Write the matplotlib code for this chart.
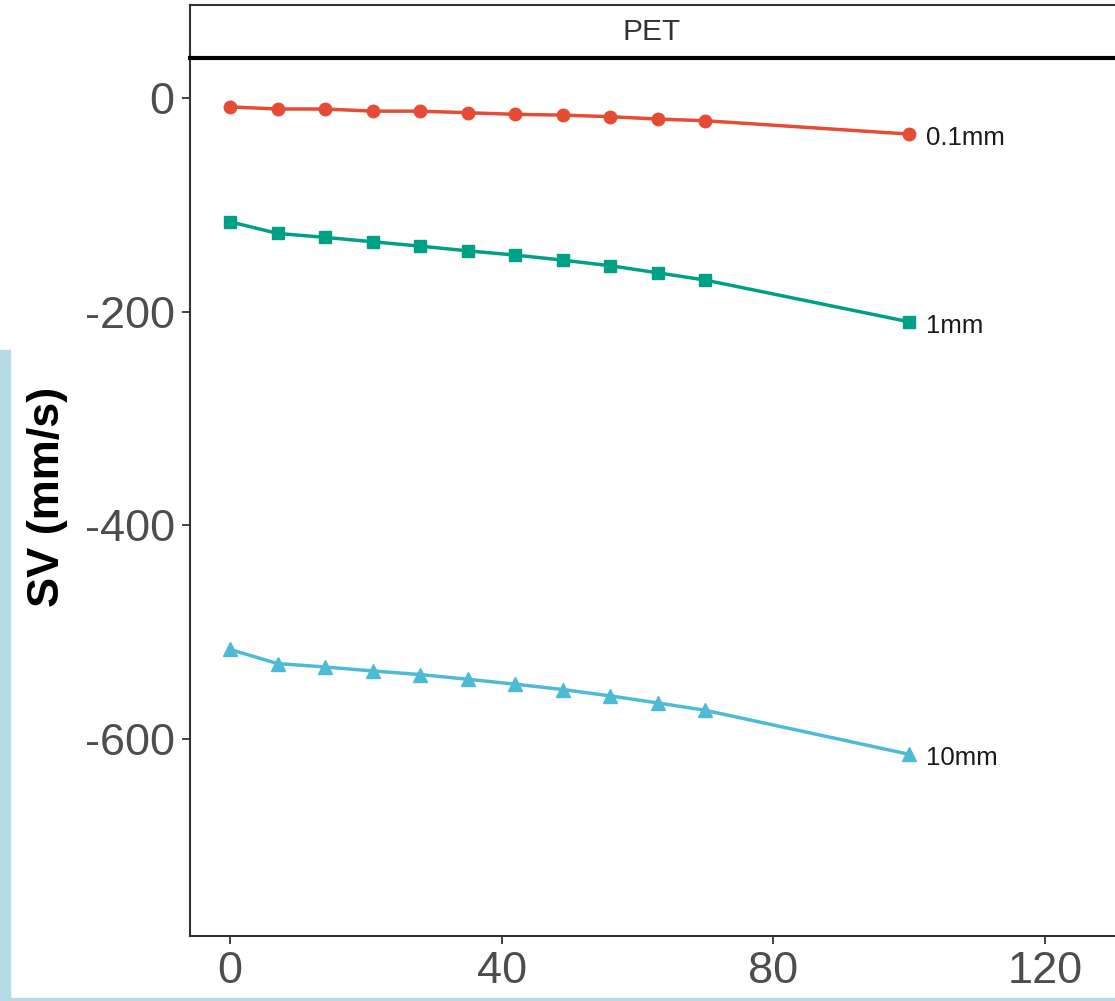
import numpy as np
import matplotlib
matplotlib.use("Agg")
import matplotlib.pyplot as plt
from matplotlib.patches import Rectangle

plt.rcParams['font.family'] = ['Liberation Sans', 'DejaVu Sans']
plt.rcParams['axes.unicode_minus'] = False

# time points
t = [0, 7, 14, 21, 28, 35, 42, 49, 56, 63, 70, 100]

# SV (mm/s) per roughness
sv_01 = [-8, -10, -10, -12, -12, -13.5, -15, -15.7, -17.2, -19.4, -21, -33.5]
sv_1 = [-115.7, -126.6, -130.3, -134.4, -138.5, -142.9, -146.9, -151.6, -156.9, -163.5, -170.3, -209.4]
sv_10 = [-516.5, -529.7, -532.9, -536.6, -540, -544.4, -549, -554, -560, -566.6, -573.5, -614.7]

names = ['0.1mm', '1mm', '10mm']
colors = ['#E64B35', '#00A087', '#4DBBD5']
markers = ['o', 's', '^']
msizes = [9, 8, 9.5]

xticks = [0, 40, 80, 120]
yticks = [0, -200, -400, -600]

W, H = 1115, 1001
fig = plt.figure(figsize=(W / 100, H / 100), dpi=100)

# panel placement (pixels)
L, R, T, B = 190, 1114, 58, 936
ax = fig.add_axes([L / W, 1 - B / H, (R - L) / W, (B - T) / H])

for ys, c, m, ms, nm in zip([sv_01, sv_1, sv_10], colors, markers, msizes, names):
    ax.plot(t, ys, color=c, lw=2.5, marker=m, ms=ms, zorder=3)
    ax.annotate(nm, (t[-1], ys[-1]), xytext=(12, -3), textcoords='offset points',
                ha='left', va='center', fontsize=18.5, color='#1a1a1a')

ax.set_xlim(-5.9, 130.2)
ax.set_ylim(-785, 37.8)
ax.set_xticks(xticks)
ax.set_yticks(yticks)
ax.tick_params(labelsize=32.5, labelcolor='#4D4D4D', color='#333333',
               length=6, width=1.3, pad=5)
for s in ['top', 'right']:
    ax.spines[s].set_visible(False)
for s in ['left', 'bottom']:
    ax.spines[s].set_color('#333333')
    ax.spines[s].set_linewidth(1.5)

ax.set_ylabel('SV (mm/s)', fontsize=32.5, fontweight='bold', color='black', va='center')
ax.yaxis.set_label_coords((47 - L) / (R - L), 0.5)

# facet strip
ST = 5
sax = fig.add_axes([L / W, 1 - T / H, (R - L) / W, (T - ST) / H])
sax.set_xticks([])
sax.set_yticks([])
sax.spines['right'].set_visible(False)
sax.spines['top'].set_color('#333333')
sax.spines['top'].set_linewidth(1.5)
sax.spines['left'].set_color('#333333')
sax.spines['left'].set_linewidth(1.5)
sax.spines['bottom'].set_color('black')
sax.spines['bottom'].set_linewidth(3)
sax.text(0.5, 0.5, 'PET', ha='center', va='center', fontsize=21.5, color='#333333',
         transform=sax.transAxes)

# light blue frame of the screenshot
blue = '#B7DBE6'
fig.patches.append(Rectangle((0, 0), 10 / W, (H - 350) / H, transform=fig.transFigure,
                             color=blue, zorder=0))
fig.patches.append(Rectangle((0, 0), 1, 3 / H, transform=fig.transFigure,
                             color=blue, zorder=0))

fig.savefig('out.png', dpi=100)
